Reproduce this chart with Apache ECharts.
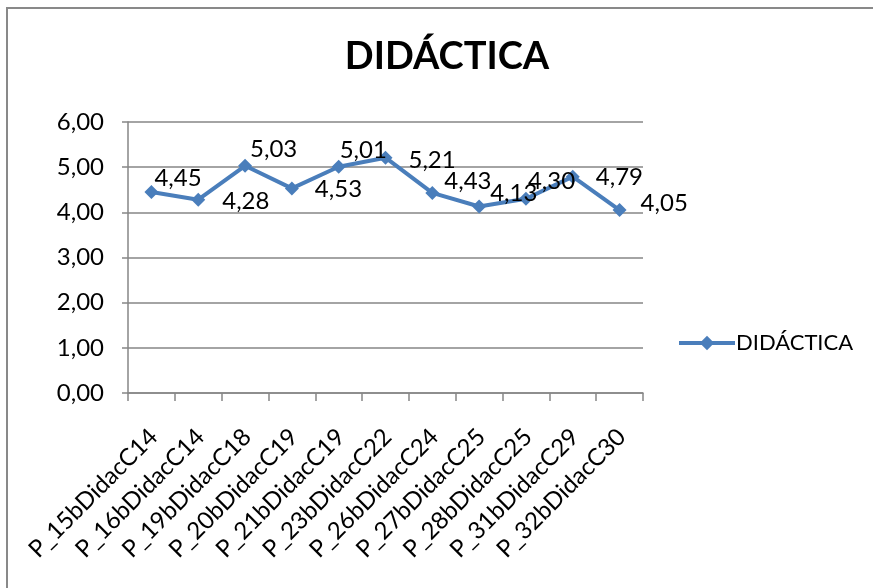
<!DOCTYPE html>
<html>
<head>
<meta charset="utf-8">
<script src="https://cdn.jsdelivr.net/npm/echarts@6/dist/echarts.min.js"></script>
<style>
html,body{margin:0;padding:0;background:#fff;}
#chart{width:873px;height:588px;}
</style>
</head>
<body>
<div id="chart"></div>
<script>
var categories = ['P_15bDidacC14','P_16bDidacC14','P_19bDidacC18','P_20bDidacC19','P_21bDidacC19','P_23bDidacC22','P_26bDidacC24','P_27bDidacC25','P_28bDidacC25','P_31bDidacC29','P_32bDidacC30'];
var values = [4.45, 4.28, 5.03, 4.53, 5.01, 5.21, 4.43, 4.13, 4.30, 4.79, 4.05];
var seriesName = 'DIDÁCTICA';
var titleText = 'DIDÁCTICA';
var labelOffsets = [[-4,-14],[17,2],[-2,-17],[16,1],[-6,-16],[16,3],[5,-12],[4,-13],[-5,-18],[16,1],[14,-7]];

var FONT = 'Lato, "Open Sans", sans-serif';
var chart = echarts.init(document.getElementById('chart'), null, {renderer:'canvas'});
var dataItems = values.map(function(v,i){
  return {value:v, label:{offset:labelOffsets[i]}};
});
chart.setOption({
  animation:false,
  backgroundColor:'#fff',
  graphic:[{type:'rect', shape:{x:7, y:8, width:900, height:600}, style:{fill:'none', stroke:'#898989', lineWidth:2}}],
  title:{text:titleText, left:442, textAlign:'center', top:33, textStyle:{fontFamily:FONT, fontSize:38, fontWeight:'bold', color:'#000'}},
  legend:{data:[seriesName], left:672, top:327, orient:'vertical', itemWidth:56, itemHeight:18, itemGap:0,
    lineStyle:{width:4},
    textStyle:{fontFamily:FONT, fontSize:22, color:'#000', padding:[0,0,0,-4]}},
  grid:{left:128, right:230, top:122, bottom:195, containLabel:false},
  xAxis:{type:'category', data:categories, boundaryGap:true,
    axisLine:{lineStyle:{color:'#868686', width:1.5}},
    axisTick:{show:true, length:8, lineStyle:{color:'#868686', width:1.5}, alignWithLabel:false},
    axisLabel:{rotate:45, margin:42, padding:[0,-3,0,0], interval:0, fontFamily:FONT, fontSize:24, color:'#000'}},
  yAxis:{type:'value', min:0, max:6, interval:1,
    axisLine:{show:true, lineStyle:{color:'#868686', width:1.5}},
    axisTick:{show:true, length:6, lineStyle:{color:'#868686', width:1.5}},
    splitLine:{lineStyle:{color:'#868686', width:1.5}},
    axisLabel:{margin:24, fontFamily:FONT, fontSize:24, color:'#000', formatter:function(v){return v.toFixed(2).replace('.',',');}}},
  series:[{name:seriesName, type:'line', data:dataItems, symbol:'diamond', symbolSize:14,
    lineStyle:{color:'#4A7EBB', width:4}, itemStyle:{color:'#4A7EBB'},
    label:{show:true, position:'right', distance:0, fontFamily:FONT, fontSize:24, color:'#000',
      formatter:function(p){return p.value.toFixed(2).replace('.',',');}}}]
});
</script>
</body>
</html>
